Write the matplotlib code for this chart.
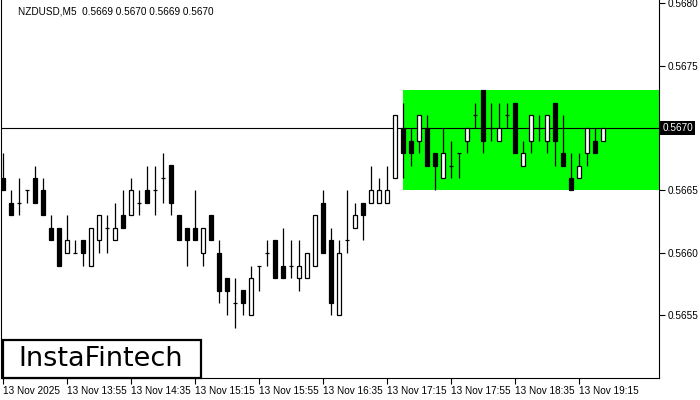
import matplotlib
matplotlib.use('Agg')
import matplotlib.pyplot as plt
from matplotlib.patches import Rectangle

# NZDUSD M5, 13 Nov 2025 from 13:15
opens = [0.5666, 0.5664, 0.5664, 0.5665, 0.5666, 0.5665, 0.5662, 0.5662, 0.5660, 0.5660,
         0.5661, 0.5659, 0.5661, 0.5662, 0.5661, 0.5663, 0.5663, 0.5664, 0.5665, 0.5665,
         0.5666, 0.5667, 0.5663, 0.5662, 0.5662, 0.5660, 0.5663, 0.5660, 0.5658, 0.5656,
         0.5657, 0.5655, 0.5659, 0.5660, 0.5661, 0.5659, 0.5659, 0.5658, 0.5658, 0.5659,
         0.5664, 0.5661, 0.5655, 0.5661, 0.5662, 0.5664, 0.5664, 0.5664, 0.5664, 0.5666,
         0.5670, 0.5669, 0.5669, 0.5670, 0.5668, 0.5666, 0.5667, 0.5668, 0.5669, 0.5671,
         0.5673, 0.5670, 0.5669, 0.5671, 0.5672, 0.5667, 0.5669, 0.5670, 0.5669, 0.5672,
         0.5668, 0.5666, 0.5666, 0.5668, 0.5669, 0.5669]
highs = [0.5668, 0.5665, 0.5666, 0.5665, 0.5667, 0.5666, 0.5663, 0.5662, 0.5663, 0.5661,
         0.5661, 0.5662, 0.5663, 0.5663, 0.5664, 0.5665, 0.5666, 0.5665, 0.5667, 0.5667,
         0.5668, 0.5667, 0.5663, 0.5662, 0.5665, 0.5662, 0.5663, 0.5661, 0.5658, 0.5658,
         0.5657, 0.5659, 0.5659, 0.5661, 0.5661, 0.5662, 0.5661, 0.5661, 0.5660, 0.5663,
         0.5665, 0.5662, 0.5661, 0.5665, 0.5664, 0.5664, 0.5667, 0.5666, 0.5667, 0.5671,
         0.5672, 0.5670, 0.5671, 0.5671, 0.5668, 0.5670, 0.5669, 0.5668, 0.5670, 0.5672,
         0.5673, 0.5672, 0.5672, 0.5672, 0.5672, 0.5669, 0.5671, 0.5671, 0.5671, 0.5672,
         0.5671, 0.5668, 0.5668, 0.5670, 0.5670, 0.5670]
lows = [0.5665, 0.5663, 0.5663, 0.5664, 0.5664, 0.5663, 0.5661, 0.5659, 0.5660, 0.5660,
        0.5659, 0.5659, 0.5660, 0.5660, 0.5661, 0.5662, 0.5663, 0.5663, 0.5664, 0.5663,
        0.5664, 0.5663, 0.5661, 0.5659, 0.5661, 0.5659, 0.5661, 0.5656, 0.5655, 0.5654,
        0.5655, 0.5655, 0.5657, 0.5659, 0.5658, 0.5658, 0.5658, 0.5657, 0.5658, 0.5659,
        0.5660, 0.5655, 0.5655, 0.5660, 0.5662, 0.5661, 0.5664, 0.5664, 0.5664, 0.5666,
        0.5666, 0.5667, 0.5668, 0.5667, 0.5665, 0.5666, 0.5666, 0.5666, 0.5668, 0.5670,
        0.5668, 0.5669, 0.5669, 0.5670, 0.5668, 0.5667, 0.5668, 0.5669, 0.5668, 0.5667,
        0.5667, 0.5665, 0.5666, 0.5667, 0.5668, 0.5669]
closes = [0.5665, 0.5663, 0.5664, 0.5665, 0.5664, 0.5663, 0.5661, 0.5659, 0.5661, 0.5660,
          0.5660, 0.5662, 0.5663, 0.5662, 0.5662, 0.5662, 0.5665, 0.5664, 0.5664, 0.5665,
          0.5666, 0.5664, 0.5661, 0.5661, 0.5661, 0.5662, 0.5661, 0.5657, 0.5657, 0.5656,
          0.5656, 0.5658, 0.5659, 0.5660, 0.5658, 0.5658, 0.5659, 0.5659, 0.5660, 0.5663,
          0.5660, 0.5656, 0.5660, 0.5661, 0.5663, 0.5663, 0.5665, 0.5665, 0.5665, 0.5671,
          0.5668, 0.5668, 0.5671, 0.5667, 0.5667, 0.5668, 0.5667, 0.5668, 0.5670, 0.5671,
          0.5669, 0.5670, 0.5670, 0.5671, 0.5668, 0.5668, 0.5671, 0.5670, 0.5671, 0.5669,
          0.5667, 0.5665, 0.5667, 0.5670, 0.5668, 0.5670]

time_labels = ['13 Nov 2025', '13 Nov 13:55', '13 Nov 14:35', '13 Nov 15:15', '13 Nov 15:55',
               '13 Nov 16:35', '13 Nov 17:15', '13 Nov 17:55', '13 Nov 18:35', '13 Nov 19:15']
time_pos = [0, 8, 16, 24, 32, 40, 48, 56, 64, 72]
price_ticks = [0.5655, 0.5660, 0.5665, 0.5670, 0.5675, 0.5680]

# pattern zone (rectangle) and current price
zone_start, zone_low, zone_high = 50, 0.5665, 0.5673
last_price = 0.5670

plt.rcParams['font.family'] = 'Liberation Sans'
fig = plt.figure(figsize=(7, 4), dpi=100)
ax = fig.add_axes([1/700, 22/400, 658/700, 378/400])

ax.set_xlim(-0.25, 82)
ax.set_ylim(0.5650, 0.568024)

ax.add_patch(Rectangle((zone_start, zone_low), 40, zone_high - zone_low,
                       facecolor='#00ff00', edgecolor='none', zorder=1))
ax.axhline(last_price, color='black', lw=0.8, zorder=2)

w = 0.6
for i in range(len(opens)):
    o, h, l, c = opens[i], highs[i], lows[i], closes[i]
    ax.vlines(i, l, h, color='black', lw=0.9, zorder=3)
    fc = 'white' if c > o else 'black'
    ax.add_patch(Rectangle((i - w/2, min(o, c)), w, abs(c - o),
                           facecolor=fc, edgecolor='black', lw=0.9, zorder=4))

ax.spines['top'].set_visible(False)
for s in ['left', 'right', 'bottom']:
    ax.spines[s].set_linewidth(0.8)

# current price is shown in the black box instead of a plain tick label
ax.yaxis.tick_right()
ax.set_yticks(price_ticks)
ax.set_yticklabels(['' if p == last_price else '%.4f' % p for p in price_ticks])
ax.tick_params(axis='y', direction='out', length=4, width=0.8, labelsize=7.2, pad=2)

ax.set_xticks(time_pos)
ax.set_xticklabels(time_labels, ha='left')
ax.tick_params(axis='x', direction='out', length=4, width=0.8, labelsize=7.2, pad=2)

ax.text(1.005, last_price, '%.4f' % last_price, transform=ax.get_yaxis_transform(),
        color='white', fontsize=7.2, va='center', ha='left', clip_on=False, zorder=10,
        bbox=dict(boxstyle='square,pad=0.2', facecolor='black', edgecolor='none'))

fig.text(18/700, 1 - 12/400, 'NZDUSD,M5  0.5669 0.5670 0.5669 0.5670',
         fontsize=7.2, va='center', ha='left')

# logo
fig.add_artist(Rectangle((3/700, 22/400), 198/700, 38/400, transform=fig.transFigure,
                         facecolor='white', edgecolor='black', lw=1.6, zorder=20))
fig.text(101/700, 1 - 359/400, 'InstaFintech', fontsize=19.5, va='center', ha='center',
         family='DejaVu Sans', zorder=21)

fig.savefig('out.png', dpi=100)
